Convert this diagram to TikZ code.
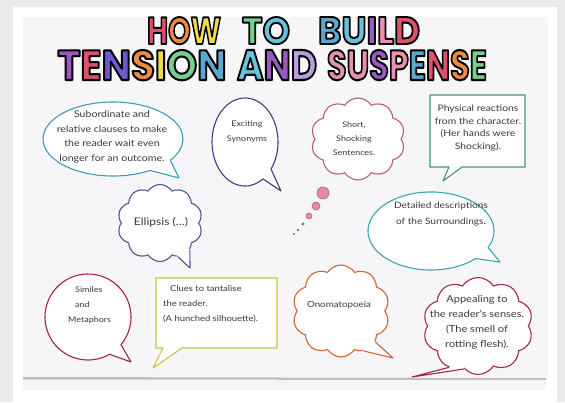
\documentclass[tikz,border=0pt]{standalone}
\usepackage{fontspec}
\setmainfont{Lato}[FakeStretch=1.15]
\newfontfamily\titlefont{Poppins}[BoldFeatures={FakeBold=5}]
\usetikzlibrary{shapes.symbols,shapes.geometric,calc}
\definecolor{bggray}{HTML}{EBEBEB}
\definecolor{paper}{HTML}{F6F5F8}
\definecolor{ink}{HTML}{3A3A3A}
\definecolor{tealA}{HTML}{3B9DBA}
\definecolor{navyB}{HTML}{3D3F7A}
\definecolor{roseC}{HTML}{B8606F}
\definecolor{greenD}{HTML}{3F9A70}
\definecolor{purpleE}{HTML}{5B4F8F}
\definecolor{tealF}{HTML}{3AA8A8}
\definecolor{crimG}{HTML}{A32345}
\definecolor{yellowH}{HTML}{C9C23A}
\definecolor{orangeI}{HTML}{CF6533}
\definecolor{crimJ}{HTML}{A8244A}
\definecolor{pinkdot}{HTML}{E48AA8}
% title letter colours
\definecolor{cRed}{HTML}{E0506A}
\definecolor{cOra}{HTML}{F08A3C}
\definecolor{cYel}{HTML}{F2D94A}
\definecolor{cGre}{HTML}{74D08C}
\definecolor{cTea}{HTML}{64C4DC}
\definecolor{cBlu}{HTML}{5AA8D0}
\definecolor{cPur}{HTML}{9A58C0}
\definecolor{cPin}{HTML}{E890B0}
\definecolor{cVio}{HTML}{6A5ACD}
\definecolor{cLil}{HTML}{B8A0E0}
% title letter: coloured fill, black stroke (stroke comes from FakeBold)
\newcommand\outletter[2]{\textcolor{#1}{\special{pdf:literal direct 0 0 0 RG 1 j}#2}}
\tikzset{
  bub/.style={line width=1.1pt, fill=white, line join=round},
  hand/.style={text=ink, align=center, inner sep=0pt},
  cloudbub/.style={cloud, cloud puffs=10, cloud puff arc=115, draw, fill=white, line width=1.1pt, inner sep=0pt},
  titleword/.style={anchor=base, inner sep=0pt}
}
\begin{document}
\begin{tikzpicture}[x=1pt,y=-1pt]
\useasboundingbox (0,0) rectangle (565,402);
\fill[bggray] (0,0) rectangle (565,402);
\fill[white] (13,7) rectangle (557,402);
\fill[paper] (23,17) rectangle (548,378);
\fill[gray!50] (23,377) -- (546,378) -- (546,380) -- (23,379.5) -- cycle;
\fill[gray!8] (23,380) rectangle (546,390);

% ---------- title ----------
\node[titleword] (h1) at (184,44) {\resizebox{74pt}{27pt}{\titlefont\bfseries\fontsize{40}{40}\selectfont\outletter{cRed}{H}\outletter{cOra}{O}\outletter{cYel}{W}}};
\node[titleword] (h2) at (266,44) {\resizebox{48pt}{27pt}{\titlefont\bfseries\fontsize{40}{40}\selectfont\outletter{cGre}{T}\outletter{cTea}{O}}};
\node[titleword] (h3) at (369,44) {\resizebox{102pt}{27pt}{\titlefont\bfseries\fontsize{40}{40}\selectfont\outletter{cBlu}{B}\outletter{cTea}{U}\outletter{cPur}{I}\outletter{cPin}{L}\outletter{cRed}{D}}};
\node[titleword] (t1) at (142,80) {\resizebox{169pt}{30pt}{\titlefont\bfseries\fontsize{44}{44}\selectfont\outletter{cPur}{T}\outletter{cRed}{E}\outletter{cVio}{N}\outletter{cOra}{S}\outletter{cYel}{I}\outletter{cGre}{O}\outletter{cBlu}{N}}};
\node[titleword] (t2) at (277,80) {\resizebox{80pt}{30pt}{\titlefont\bfseries\fontsize{44}{44}\selectfont\outletter{cTea}{A}\outletter{cPur}{N}\outletter{cLil}{D}}};
\node[titleword] (t3) at (407,80) {\resizebox{160pt}{30pt}{\titlefont\bfseries\fontsize{44}{44}\selectfont\outletter{cPin}{S}\outletter{cPin}{U}\outletter{cPur}{S}\outletter{cPin}{P}\outletter{cBlu}{E}\outletter{cRed}{N}\outletter{cOra}{S}\outletter{cGre}{E}}};

% ---------- A: subordinate clauses (teal speech ellipse) ----------
\coordinate (A) at (113,139);
\coordinate (Atip) at (179,178);
\draw[bub, draw=tealA] ([shift={(58:70 and 37)}]A) arc[start angle=58, end angle=395, x radius=70, y radius=37] -- (Atip) -- cycle;
\node[hand, font=\fontsize{9.2}{14.5}\selectfont] (Atxt) at (112,137) {Subordinate and\\relative clauses to make\\the reader wait even\\longer for an outcome.};

% ---------- B: exciting synonyms (navy ellipse) ----------
\coordinate (B) at (245,142);
\coordinate (Btip) at (281,191);
\draw[bub, draw=navyB] ([shift={(57:33 and 44)}]B) arc[start angle=57, end angle=398, x radius=33, y radius=44] -- (Btip) -- cycle;
\node[hand, font=\fontsize{7.8}{15}\selectfont] (Btxt) at (247,132) {Exciting\\Synonyms};

% ---------- C: short shocking sentences (rose cloud) ----------
\node[cloudbub, draw=roseC, minimum width=94pt, minimum height=82pt] (C) at (358,139) {};
\node[hand, font=\fontsize{7.8}{14}\selectfont] (Ctxt) at (354,139) {Short,\\Shocking\\Sentences.};
\fill[pinkdot, draw=roseC, line width=.6pt] (323,193) circle[radius=6pt];
\fill[pinkdot, draw=roseC, line width=.6pt] (316,206) circle[radius=4pt];
\fill[pinkdot, draw=roseC, line width=.6pt] (309,216) circle[radius=3pt];
\fill[gray!70!purpleE] (303,224) circle[radius=1.6pt];
\fill[gray!70!purpleE] (298,230) circle[radius=1.3pt];
\fill[gray!70!purpleE] (294,234) circle[radius=1.1pt];

% ---------- D: physical reactions (green rectangle) ----------
\draw[bub, draw=greenD] (430,95) -- (525,95) -- (525,167) -- (462,167) -- (443,181) -- (449,167) -- (430,167) -- cycle;
\node[hand, font=\fontsize{9}{12.5}\selectfont] (Dtxt) at (478,128) {Physical reactions\\from the character.\\(Her hands were\\Shocking).};

% ---------- E: ellipsis (purple cloud) ----------
\node[cloudbub, draw=purpleE, minimum width=85pt, minimum height=77pt] (E) at (160,223) {};
\fill[white] (E.-62) -- (190,268) -- (E.-42) -- (E.center) -- cycle;
\draw[purpleE, line width=1.1pt, line join=round] (E.-62) -- (190,268) -- (E.-42);
\node[hand, font=\fontsize{10.5}{14}\selectfont] (Etxt) at (161,222) {Ellipsis (\dots)};

% ---------- F: detailed descriptions (teal ellipse) ----------
\coordinate (F) at (431,231);
\coordinate (Ftip) at (500,262);
\draw[bub, draw=tealF] ([shift={(45:63 and 39)}]F) arc[start angle=45, end angle=385, x radius=63, y radius=39] -- (Ftip) -- cycle;
\node[hand, font=\fontsize{8.8}{16}\selectfont] (Ftxt) at (441,214) {Detailed descriptions\\of the Surroundings.};

% ---------- G: similes and metaphors (crimson bubble) ----------
\coordinate (G) at (88,317);
\coordinate (Gtip) at (131,362);
\draw[bub, draw=crimG] ([shift={(60:43 and 43)}]G) arc[start angle=60, end angle=400, x radius=43, y radius=43] -- (Gtip) -- cycle;
\node[hand, font=\fontsize{7.8}{15}\selectfont, align=left, anchor=north west] (Gtxt) at (68,287) {\hspace*{7pt}Similes\\\hspace*{7pt}and\\Metaphors};

% ---------- H: clues (yellow rectangle) ----------
\draw[bub, draw=yellowH] (156,278) -- (277,278) -- (277,348) -- (182,348) -- (153,368) -- (163,348) -- (156,348) -- cycle;
\node[hand, font=\fontsize{8.2}{15}\selectfont, align=left, anchor=north west] (Htxt) at (163,285) {\hspace*{7pt}Clues to tantalise\\the reader.\\(A hunched silhouette).};

% ---------- I: onomatopoeia (orange cloud) ----------
\node[cloudbub, draw=orangeI, minimum width=97pt, minimum height=92pt] (I) at (341,311) {};
\fill[white] (I.-60) -- (393,358) -- (I.-42) -- (I.center) -- cycle;
\draw[orangeI, line width=1.1pt, line join=round] (I.-60) -- (393,358) -- (I.-42);
\node[hand, font=\fontsize{8.5}{14}\selectfont] (Itxt) at (339,305) {Onomatopoeia};

% ---------- J: appealing to the senses (crimson cloud) ----------
\node[cloudbub, draw=crimJ, minimum width=110pt, minimum height=97pt] (J) at (478,326) {};
\fill[white] (J.-125) -- (412,377) -- (J.-108) -- (J.center) -- cycle;
\draw[crimJ, line width=1.1pt, line join=round] (J.-125) -- (412,377) -- (J.-108);
\node[hand, font=\fontsize{9.6}{15}\selectfont] (Jtxt) at (477,322) {Appealing to\\the reader's senses.\\(The smell of\\rotting flesh).};
\end{tikzpicture}
\end{document}
